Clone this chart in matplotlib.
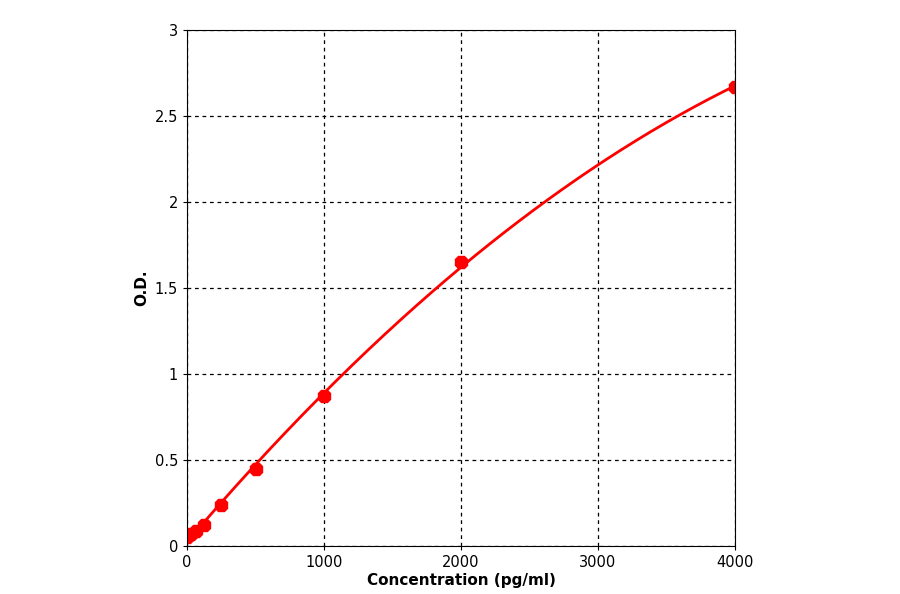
import numpy as np
import matplotlib
matplotlib.use("Agg")
import matplotlib.pyplot as plt

conc = [0, 31.25, 62.5, 125, 250, 500, 1000, 2000, 4000]
od = [0.05, 0.07, 0.09, 0.12, 0.24, 0.45, 0.87, 1.65, 2.67]
xticks = [0, 1000, 2000, 3000, 4000]
yticks = [0, 0.5, 1, 1.5, 2, 2.5, 3]
ytick_labels = ["0", "0.5", "1", "1.5", "2", "2.5", "3"]

fig = plt.figure(figsize=(9, 5.94), dpi=100)
ax = fig.add_axes([0.2078, 0.0808, 0.6089, 0.8687])

coef = np.polyfit(conc, od, 2)
xs = np.linspace(0, 4000, 300)
ax.plot(xs, np.polyval(coef, xs), color="red", lw=2)
ax.plot(conc, od, "8", color="red", ms=10, ls="none")

ax.set_xlim(0, 4000)
ax.set_ylim(0, 3)
ax.set_xticks(xticks)
ax.set_yticks(yticks)
ax.set_yticklabels(ytick_labels)
ax.grid(True, color="black", ls=(0, (3, 3)), lw=0.9)
ax.tick_params(labelsize=10.5, direction="out", length=3)
for s in ax.spines.values():
    s.set_color("black")
ax.set_xlabel("Concentration (pg/ml)", fontsize=11, fontweight="bold", labelpad=2)
ax.set_ylabel("O.D.", fontsize=11, fontweight="bold", labelpad=4)
fig.savefig("out.png", dpi=100)
